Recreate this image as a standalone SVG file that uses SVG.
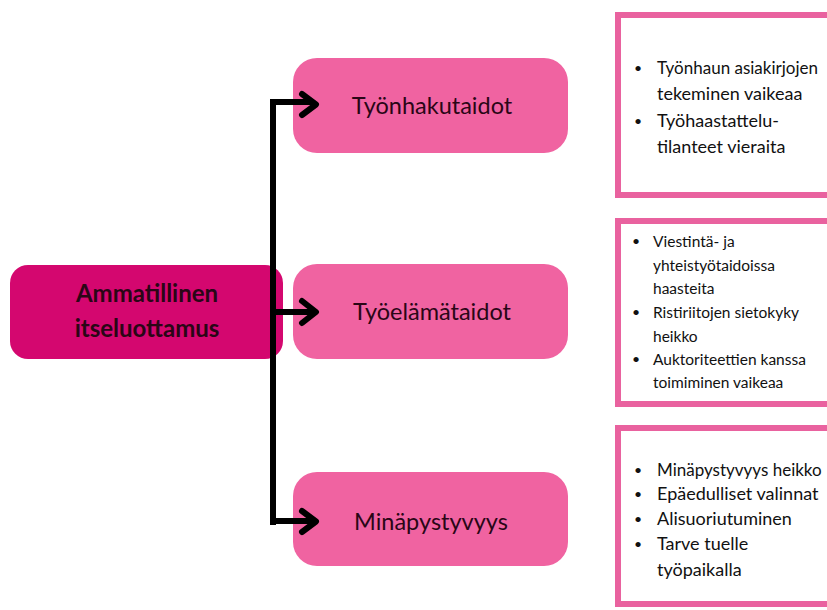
<svg xmlns="http://www.w3.org/2000/svg" width="827" height="610" viewBox="0 0 827 610">
  <defs>
    <style>
      .root { fill: #D4076F; }
      .topic { fill: #F063A1; }
      .panel { fill: #FFFFFF; stroke: #E9629F; stroke-width: 6; }
      .link { fill: none; stroke: #000000; stroke-width: 6; }
      .head { fill: none; stroke: #000000; stroke-width: 6; stroke-linecap: round; stroke-linejoin: round; }
      .rootText { font-family: Lato, "Liberation Sans", sans-serif; font-weight: bold; font-size: 24px; fill: #2A0616; text-anchor: middle; }
      .topicText { font-family: Lato, "Liberation Sans", sans-serif; font-size: 23.5px; fill: #2A0616; text-anchor: middle; }
      .item { font-family: Lato, "Liberation Sans", sans-serif; font-size: 18px; fill: #111111; }
      .itemWide { font-family: Lato, "Liberation Sans", sans-serif; font-size: 17px; fill: #111111; }
      .itemSmall { font-family: Lato, "Liberation Sans", sans-serif; font-size: 15.5px; fill: #111111; }
      .dot { font-family: Lato, "Liberation Sans", sans-serif; font-size: 14px; fill: #111111; }
    </style>
  </defs>
  <rect width="827" height="610" fill="#FFFFFF"/>

  <!-- root node -->
  <g id="root">
    <rect class="root" x="10" y="265" width="273" height="94" rx="18"/>
    <text class="rootText" x="147" y="302">Ammatillinen</text>
    <text class="rootText" x="147" y="337">itseluottamus</text>
  </g>

  <!-- topic nodes -->
  <g id="tyonhakutaidot">
    <rect class="topic" x="293" y="58" width="275" height="95" rx="24"/>
    <text class="topicText" x="432" y="114">Työnhakutaidot</text>
  </g>
  <g id="tyoelamataidot">
    <rect class="topic" x="293" y="264" width="275" height="95" rx="24"/>
    <text class="topicText" x="432" y="320">Työelämätaidot</text>
  </g>
  <g id="minapystyvyys">
    <rect class="topic" x="293" y="472" width="275" height="94" rx="24"/>
    <text class="topicText" x="431" y="530">Minäpystyvyys</text>
  </g>

  <!-- detail panels (right edge runs past the canvas) -->
  <g id="panel-tyonhaku">
    <rect class="panel" x="618" y="15" width="230" height="180"/>
    <text class="dot" x="634" y="73">•</text>
    <text class="itemWide" x="657" y="74">Työnhaun asiakirjojen</text>
    <text class="item" x="657" y="100">tekeminen vaikeaa</text>
    <text class="dot" x="634" y="126">•</text>
    <text class="item" x="657" y="127">Työhaastattelu-</text>
    <text class="item" x="657" y="153">tilanteet vieraita</text>
  </g>
  <g id="panel-tyoelama">
    <rect class="panel" x="618" y="221" width="230" height="183"/>
    <text class="dot" x="632" y="246">•</text>
    <text class="itemSmall" x="653" y="247">Viestintä- ja</text>
    <text class="itemSmall" x="653" y="271">yhteistyötaidoissa</text>
    <text class="itemSmall" x="653" y="294">haasteita</text>
    <text class="dot" x="632" y="317">•</text>
    <text class="itemSmall" x="653" y="318">Ristiriitojen sietokyky</text>
    <text class="itemSmall" x="653" y="342">heikko</text>
    <text class="dot" x="632" y="364">•</text>
    <text class="itemSmall" x="653" y="365">Auktoriteettien kanssa</text>
    <text class="itemSmall" x="653" y="388">toimiminen vaikeaa</text>
  </g>
  <g id="panel-minapystyvyys">
    <rect class="panel" x="618" y="428" width="230" height="176"/>
    <text class="dot" x="634" y="475">•</text>
    <text class="itemWide" x="657" y="476">Minäpystyvyys heikko</text>
    <text class="dot" x="634" y="499">•</text>
    <text class="item" x="657" y="500">Epäedulliset valinnat</text>
    <text class="dot" x="634" y="524">•</text>
    <text class="item" x="657" y="525">Alisuoriutuminen</text>
    <text class="dot" x="634" y="549">•</text>
    <text class="item" x="657" y="550">Tarve tuelle</text>
    <text class="item" x="657" y="576">työpaikalla</text>
  </g>

  <!-- connectors -->
  <g id="connectors">
    <path class="link" d="M 273 525 V 102 H 314"/>
    <path class="link" d="M 273 312 H 314"/>
    <path class="link" d="M 273 521 H 314"/>
    <path class="head" d="M 302 94 L 316 104.5 L 302 115"/>
    <path class="head" d="M 302 301 L 316 312 L 302 323"/>
    <path class="head" d="M 302 511 L 316 521.5 L 302 532"/>
  </g>
</svg>
